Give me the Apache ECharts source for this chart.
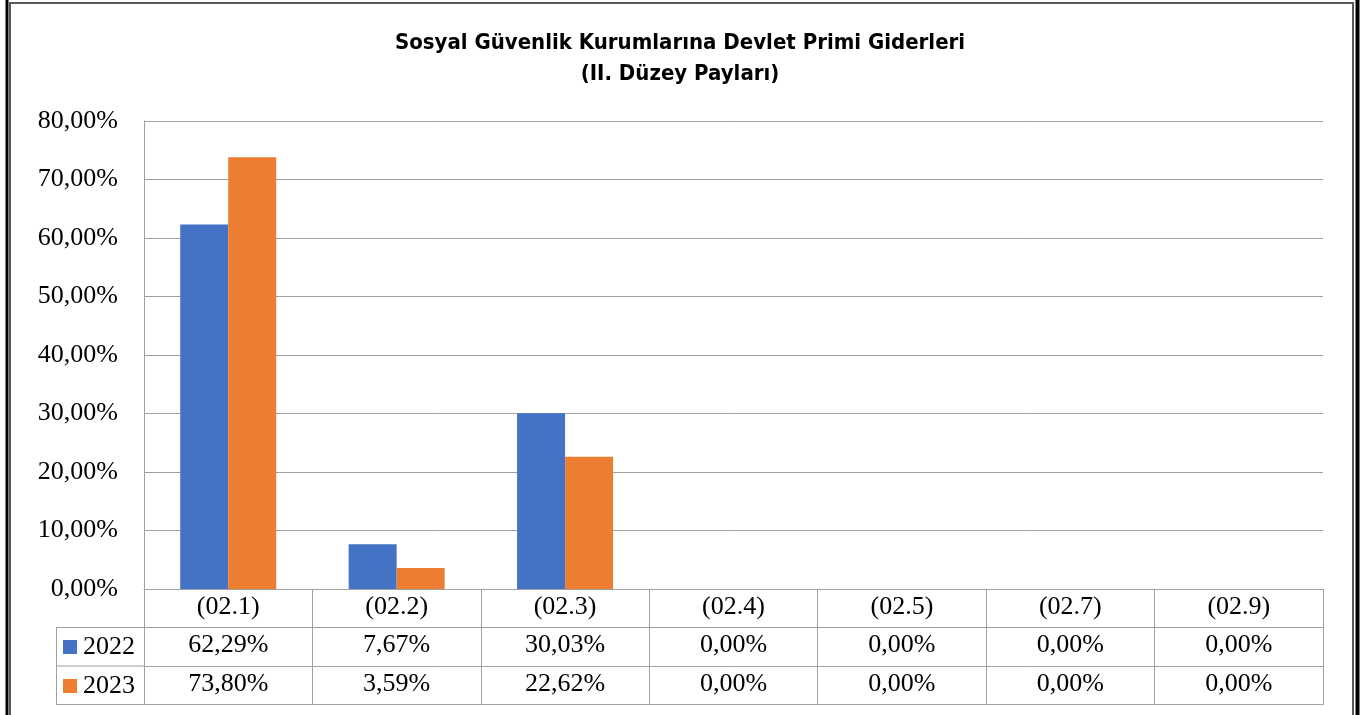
<!DOCTYPE html>
<html>
<head>
<meta charset="utf-8">
<script src="https://cdn.jsdelivr.net/npm/echarts@6/dist/echarts.min.js"></script>
<style>
html,body{margin:0;padding:0;background:#fff;}
#chart{width:1360px;height:715px;}
</style>
</head>
<body>
<div id="chart"></div>
<script>
const categories = ['(02.1)', '(02.2)', '(02.3)', '(02.4)', '(02.5)', '(02.7)', '(02.9)'];
const seriesNames = ['2022', '2023'];
const values2022 = [62.29, 7.67, 30.03, 0, 0, 0, 0];
const values2023 = [73.80, 3.59, 22.62, 0, 0, 0, 0];
const yTicks = { min: 0, max: 80, interval: 10 };
const titleText = 'Sosyal Güvenlik Kurumlarına Devlet Primi Giderleri\n(II. Düzey Payları)';

const fmt = v => v.toFixed(2).replace('.', ',') + '%';
const serif = 'Liberation Serif, Times New Roman, serif';
const gridColor = '#a0a0a0';
const blue = '#4472C4', orange = '#ED7D31';
const FS = 26;

const chart = echarts.init(document.getElementById('chart'), null, { renderer: 'canvas' });

const G = { left: 144, right: 37, top: 121, bottom: 126 };
const rowH = 38.5;

function tableAxis(offset, labels, showLabel) {
  return {
    type: 'category', data: categories, position: 'bottom', offset: offset,
    axisLine: { show: true, lineStyle: { color: gridColor, width: 1 } },
    axisTick: { show: false },
    axisLabel: { show: showLabel, interval: 0, margin: 5, fontFamily: serif, fontSize: FS, color: '#000',
      formatter: (v, i) => labels ? labels[i] : v }
  };
}

const option = {
  animation: false,
  backgroundColor: '#fff',
  title: {
    text: titleText, left: 'center', top: 23,
    textStyle: { fontFamily: 'Liberation Sans Narrow, DejaVu Sans Condensed, sans-serif', fontWeight: 'bold', fontSize: 22, lineHeight: 31, color: '#000' }
  },
  legend: {
    orient: 'vertical', left: 58, top: 629, itemGap: 13,
    itemWidth: 14, itemHeight: 14, icon: 'rect',
    textStyle: { fontFamily: serif, fontSize: FS, color: '#000', padding: [0, 0, 0, 1] },
    data: seriesNames
  },
  grid: G,
  xAxis: [
    {
      type: 'category', data: categories, position: 'bottom',
      axisLine: { show: true, lineStyle: { color: gridColor, width: 1 } },
      axisTick: { show: true, interval: 0, length: 3 * rowH, lineStyle: { color: gridColor, width: 1 } },
      axisLabel: { interval: 0, margin: 5, fontFamily: serif, fontSize: FS, color: '#000' }
    },
    tableAxis(rowH, values2022.map(fmt), true),
    tableAxis(2 * rowH, values2023.map(fmt), true),
    tableAxis(3 * rowH, null, false)
  ],
  yAxis: {
    type: 'value', min: yTicks.min, max: yTicks.max, interval: yTicks.interval,
    axisLine: { show: true, lineStyle: { color: gridColor, width: 1 } },
    axisTick: { show: false },
    splitLine: { lineStyle: { color: gridColor, width: 1 } },
    axisLabel: { margin: 26, fontFamily: serif, fontSize: FS, color: '#000', formatter: fmt }
  },
  series: [
    { name: seriesNames[0], type: 'bar', data: values2022, itemStyle: { color: blue }, barGap: '0%', barCategoryGap: '43%' },
    { name: seriesNames[1], type: 'bar', data: values2023, itemStyle: { color: orange }, barGap: '0%', barCategoryGap: '43%' }
  ],
  graphic: [
    { type: 'line', shape: { x1: 56, y1: 589 + rowH, x2: 144, y2: 589 + rowH }, style: { stroke: gridColor, lineWidth: 1 } },
    { type: 'line', shape: { x1: 56, y1: 589 + 2 * rowH, x2: 144, y2: 589 + 2 * rowH }, style: { stroke: gridColor, lineWidth: 1 } },
    { type: 'line', shape: { x1: 56, y1: 589 + 3 * rowH, x2: 144, y2: 589 + 3 * rowH }, style: { stroke: gridColor, lineWidth: 1 } },
    { type: 'line', shape: { x1: 56.5, y1: 589 + rowH, x2: 56.5, y2: 589 + 3 * rowH }, style: { stroke: gridColor, lineWidth: 1 } },
    { type: 'rect', shape: { x: 10, y: 3, width: 1343, height: 720 }, style: { fill: null, stroke: '#595959', lineWidth: 2 } },
    { type: 'line', shape: { x1: 7, y1: 0, x2: 7, y2: 715 }, style: { stroke: '#000', lineWidth: 3 } },
    { type: 'line', shape: { x1: 1357.5, y1: 0, x2: 1357.5, y2: 715 }, style: { stroke: '#000', lineWidth: 4 } }
  ]
};
chart.setOption(option);
</script>
</body>
</html>
